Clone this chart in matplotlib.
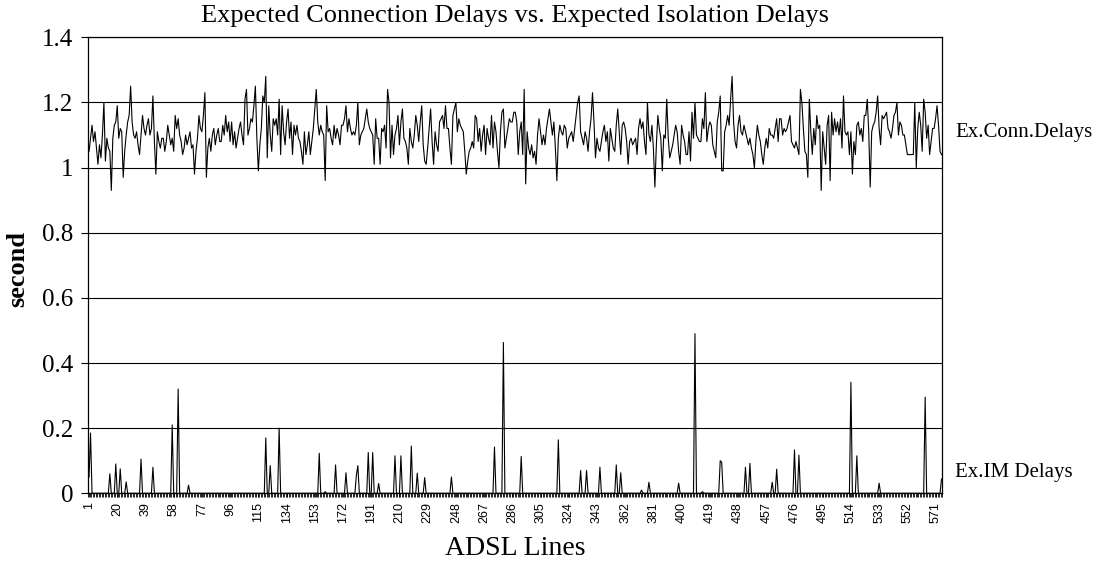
import numpy as np
import matplotlib
matplotlib.use("Agg")
import matplotlib.pyplot as plt

# expected connection delay per ADSL line (575 lines)
conn_delays = [
    1.05, 1.09, 1.13, 1.08, 1.11, 1.06, 1.01, 1.07, 1.03, 1.10,
    1.20, 1.02, 1.09, 1.06, 1.05, 0.93, 1.09, 1.13, 1.14, 1.19,
    1.09, 1.12, 1.11, 0.97, 1.05, 1.10, 1.14, 1.16, 1.25, 1.14,
    1.10, 1.09, 1.11, 1.07, 1.04, 1.10, 1.16, 1.12, 1.10, 1.13,
    1.15, 1.10, 1.12, 1.22, 1.08, 0.98, 1.11, 1.08, 1.06, 1.09,
    1.09, 1.05, 1.08, 1.13, 1.10, 1.07, 1.09, 1.05, 1.16, 1.12,
    1.15, 1.10, 1.08, 1.04, 1.06, 1.10, 1.07, 1.09, 1.11, 1.06,
    1.07, 0.98, 1.05, 1.09, 1.16, 1.12, 1.11, 1.16, 1.23, 0.97,
    1.06, 1.09, 1.05, 1.10, 1.12, 1.07, 1.10, 1.12, 1.08, 1.08,
    1.13, 1.10, 1.16, 1.11, 1.14, 1.08, 1.14, 1.07, 1.11, 1.06,
    1.09, 1.12, 1.14, 1.10, 1.07, 1.21, 1.24, 1.10, 1.12, 1.15,
    1.14, 1.19, 1.25, 1.09, 0.99, 1.07, 1.12, 1.22, 1.20, 1.28,
    1.03, 1.19, 1.10, 1.05, 1.15, 1.13, 1.15, 1.10, 1.21, 1.04,
    1.19, 1.11, 1.07, 1.14, 1.18, 1.09, 1.14, 1.04, 1.13, 1.10,
    1.13, 1.09, 1.08, 1.05, 1.01, 1.11, 1.04, 1.07, 1.11, 1.04,
    1.08, 1.12, 1.18, 1.24, 1.14, 1.10, 1.13, 1.11, 1.10, 0.96,
    1.19, 1.11, 1.12, 1.09, 1.07, 1.13, 1.09, 1.12, 1.10, 1.07,
    1.13, 1.13, 1.15, 1.19, 1.11, 1.15, 1.12, 1.10, 1.11, 1.10,
    1.13, 1.20, 1.07, 1.10, 1.11, 1.12, 1.15, 1.18, 1.14, 1.12,
    1.11, 1.10, 1.01, 1.15, 1.09, 1.09, 1.01, 1.12, 1.11, 1.13,
    1.06, 1.24, 1.20, 1.03, 1.13, 1.04, 1.10, 1.12, 1.16, 1.07,
    1.14, 1.18, 1.09, 1.08, 1.06, 1.01, 1.12, 1.08, 1.06, 1.10,
    1.16, 1.13, 1.08, 1.14, 1.19, 1.07, 1.02, 1.01, 1.06, 1.12,
    1.18, 1.08, 1.01, 1.11, 1.07, 1.05, 1.14, 1.15, 1.16, 1.12,
    1.19, 1.12, 1.12, 1.06, 1.01, 1.16, 1.18, 1.20, 1.11, 1.15,
    1.13, 1.12, 1.11, 1.05, 0.98, 1.02, 1.05, 1.06, 1.08, 1.06,
    1.16, 1.15, 1.08, 1.12, 1.05, 1.10, 1.13, 1.04, 1.12, 1.09,
    1.07, 1.16, 1.06, 1.14, 1.11, 1.05, 1.00, 1.11, 1.17, 1.18,
    1.06, 1.09, 1.12, 1.15, 1.14, 1.14, 1.17, 1.17, 1.14, 1.04,
    1.11, 1.14, 1.04, 1.24, 0.95, 1.11, 1.06, 1.04, 1.07, 1.03,
    1.05, 1.01, 1.10, 1.15, 1.11, 1.07, 1.10, 1.07, 1.12, 1.15,
    1.18, 1.14, 1.10, 1.14, 1.06, 0.96, 1.09, 1.13, 1.11, 1.10,
    1.13, 1.12, 1.06, 1.09, 1.10, 1.11, 1.08, 1.12, 1.16, 1.20,
    1.22, 1.11, 1.09, 1.07, 1.11, 1.09, 1.05, 1.11, 1.15, 1.23,
    1.14, 1.03, 1.09, 1.06, 1.05, 1.08, 1.11, 1.13, 1.08, 1.11,
    1.02, 1.12, 1.09, 1.06, 1.05, 1.13, 1.18, 1.11, 1.04, 1.13,
    1.14, 1.12, 1.08, 1.01, 1.08, 1.09, 1.07, 1.08, 1.09, 1.04,
    1.12, 1.15, 1.12, 1.14, 1.08, 1.04, 1.20, 1.10, 1.08, 1.13,
    1.06, 0.94, 1.07, 1.16, 1.12, 1.09, 0.99, 1.10, 1.09, 1.21,
    1.09, 1.03, 1.05, 1.07, 1.10, 1.13, 1.11, 1.05, 1.01, 1.13,
    1.10, 1.08, 1.04, 1.04, 1.11, 1.02, 1.17, 1.09, 1.20, 1.10,
    1.09, 1.08, 1.08, 1.15, 1.12, 1.23, 1.08, 1.12, 1.14, 1.13,
    1.07, 1.05, 1.03, 1.14, 1.17, 1.22, 0.99, 0.99, 1.11, 1.13,
    1.16, 1.13, 1.21, 1.28, 1.14, 1.08, 1.06, 1.13, 1.16, 1.11,
    1.10, 1.13, 1.11, 1.09, 1.07, 1.09, 1.06, 1.04, 1.00, 1.08,
    1.13, 1.10, 1.08, 1.04, 1.01, 1.06, 1.09, 1.06, 1.12, 1.10,
    1.10, 1.09, 1.12, 1.15, 1.08, 1.15, 1.15, 1.10, 1.12, 1.11,
    1.12, 1.14, 1.16, 1.08, 1.07, 1.06, 1.08, 1.06, 1.04, 1.24,
    1.20, 1.12, 1.05, 1.04, 0.97, 1.21, 1.11, 1.04, 1.12, 1.07,
    1.16, 1.12, 1.13, 0.93, 1.11, 1.06, 1.01, 1.13, 1.16, 0.96,
    1.17, 1.10, 1.15, 1.11, 1.14, 1.10, 1.15, 1.06, 1.22, 1.11,
    1.10, 1.11, 1.04, 1.11, 0.98, 1.08, 1.04, 1.13, 1.14, 1.10,
    1.12, 1.08, 1.16, 1.16, 1.21, 1.11, 0.94, 1.11, 1.13, 1.14,
    1.17, 1.22, 1.12, 1.07, 1.16, 1.15, 1.16, 1.17, 1.12, 1.11,
    1.09, 1.12, 1.16, 1.17, 1.20, 1.10, 1.14, 1.13, 1.10, 1.10,
    1.07, 1.04, 1.04, 1.04, 1.04, 1.04, 1.20, 1.00, 1.12, 1.17,
    1.13, 1.05, 1.21, 1.17, 1.09, 1.13, 1.04, 1.08, 1.12, 1.12,
    1.15, 1.19, 1.13, 1.05, 1.04,
]

# isolation (IM) delays are zero except on these lines
im_lines = [1, 2, 15, 19, 22, 26, 36, 44, 57, 61, 68, 120, 123, 129, 156, 160,
            167, 174, 181, 182, 189, 192, 196, 207, 211, 218, 222, 227, 245,
            274, 280, 292, 317, 332, 336, 345, 356, 359, 373, 378, 398, 409,
            414, 426, 427, 443, 446, 461, 464, 476, 479, 514, 518, 533, 564, 575]
im_values = [0.05, 0.185, 0.06, 0.09, 0.075, 0.035, 0.105, 0.08, 0.21, 0.32,
             0.025, 0.17, 0.085, 0.2, 0.123, 0.005, 0.087, 0.063, 0.055, 0.085,
             0.125, 0.125, 0.03, 0.115, 0.115, 0.145, 0.062, 0.048, 0.05, 0.142,
             0.463, 0.113, 0.164, 0.07, 0.07, 0.08, 0.087, 0.063, 0.01, 0.034,
             0.031, 0.49, 0.005, 0.1, 0.095, 0.08, 0.092, 0.034, 0.074, 0.133,
             0.117, 0.341, 0.115, 0.031, 0.295, 0.044]

y_ticks = [0, 0.2, 0.4, 0.6, 0.8, 1.0, 1.2, 1.4]
y_labels = ["0", "0.2", "0.4", "0.6", "0.8", "1", "1.2", "1.4"]

n = len(conn_delays)
lines = np.arange(1, n + 1)
im_delays = np.zeros(n)
im_delays[np.array(im_lines) - 1] = im_values
x_ticks = list(range(1, n + 1, 19))

serif = "Liberation Serif"

fig = plt.figure(figsize=(11.08, 5.61), dpi=100)
ax = fig.add_axes([0.0797, 0.1207, 0.7707, 0.8128])

ax.plot(lines, conn_delays, color="black", lw=0.8)
ax.plot(lines, im_delays, color="black", lw=0.8)

ax.set_xlim(0.5, n + 0.5)
ax.set_ylim(0, 1.4)
ax.set_yticks(y_ticks)
ax.set_yticklabels(y_labels, fontfamily=serif, fontsize=18)
ax.yaxis.grid(True, color="black", lw=0.8)
ax.set_axisbelow(True)

ax.set_xticks(x_ticks)
ax.set_xticklabels([str(t) for t in x_ticks], rotation=90,
                   fontfamily="Liberation Sans", fontsize=9)
ax.set_xticks(np.arange(0.5, n + 1, 1), minor=True)
ax.tick_params(axis="x", which="both", length=3, width=0.6, direction="out")
ax.tick_params(axis="y", length=5, width=0.8, pad=6)

for s in ax.spines.values():
    s.set_linewidth(0.9)

fig.text(0.465, 0.972, "Expected Connection Delays vs. Expected Isolation Delays",
         ha="center", va="center", fontfamily=serif, fontsize=19)
fig.text(0.465, 0.023, "ADSL Lines", ha="center", va="center",
         fontfamily=serif, fontsize=20)
fig.text(0.016, 0.52, "second", ha="center", va="center", rotation=90,
         fontfamily=serif, fontsize=19, fontweight="bold")
fig.text(0.862, 1 - 133 / 561, "Ex.Conn.Delays", ha="left", va="center",
         fontfamily=serif, fontsize=15)
fig.text(0.862, 1 - 473 / 561, "Ex.IM Delays", ha="left", va="center",
         fontfamily=serif, fontsize=15)

fig.savefig("out.png", dpi=100)
